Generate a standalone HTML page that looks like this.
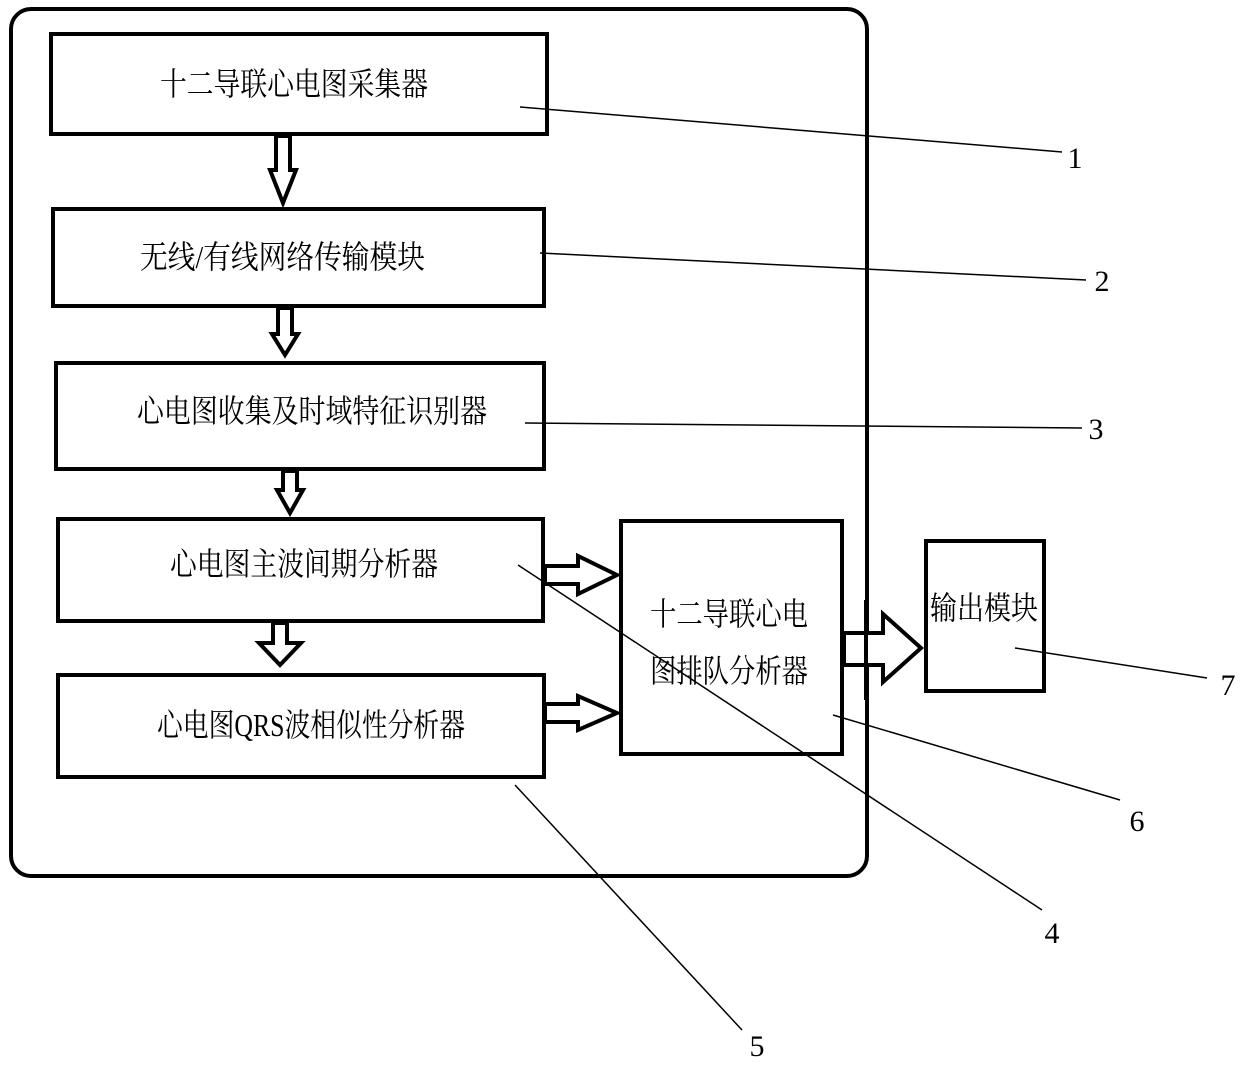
<!DOCTYPE html>
<html><head><meta charset="utf-8"><style>
html,body{margin:0;padding:0;background:#fff}
text{font-family:"Liberation Serif","Noto Serif CJK SC","Noto Sans CJK SC",serif;fill:#000}
</style></head><body>
<svg width="1240" height="1065" viewBox="0 0 1240 1065" xmlns="http://www.w3.org/2000/svg">
<rect x="11" y="9" width="856" height="867" rx="20" fill="none" stroke="#000" stroke-width="4"/>
<g fill="#fff" stroke="#000" stroke-width="4">
<rect x="51" y="34" width="496" height="100"/>
<rect x="53" y="209" width="491" height="97"/>
<rect x="56" y="363" width="488" height="106"/>
<rect x="58" y="519" width="485" height="102"/>
<rect x="58" y="675" width="486" height="102"/>
<rect x="621" y="521" width="221" height="233"/>
<rect x="926" y="541" width="118" height="150"/>
</g>
<g fill="#fff" stroke="#000" stroke-width="4" stroke-linejoin="miter">
<path d="M276 136 V170 H270 L283 203 L296 170 H290 V136 Z"/>
<path d="M278 308 V334 H272 L285 355 L298 334 H292 V308 Z"/>
<path d="M283 471 V490 H277 L290 513 L303 490 H297 V471 Z"/>
<path d="M273 623 V643 H259 L280 665 L301 643 H287 V623 Z"/>
<path d="M545 566 H578 V556 L617 575 L578 594 V584 H545 Z"/>
<path d="M545 704 H578 V696 L617 713 L578 730 V722 H545 Z"/>
<path d="M844 633 H883 V614 L921 648 L883 682 V665 H844 Z"/>
</g>
<line x1="866" y1="600" x2="866" y2="700" stroke="#000" stroke-width="4"/>
<g stroke="#000" stroke-width="1.5" fill="none">
<line x1="520" y1="107" x2="1062" y2="152"/>
<line x1="540" y1="253" x2="1086" y2="280"/>
<line x1="525" y1="423" x2="1082" y2="428"/>
<line x1="518" y1="565" x2="1042" y2="910"/>
<line x1="515" y1="785" x2="742" y2="1030"/>
<line x1="833" y1="715" x2="1120" y2="800"/>
<line x1="1015" y1="648" x2="1207" y2="678"/>
</g>
<g font-size="32" lengthAdjust="spacingAndGlyphs">
<text x="160" y="95" textLength="268" lengthAdjust="spacingAndGlyphs">十二导联心电图采集器</text>
<text x="140" y="268" textLength="285" lengthAdjust="spacingAndGlyphs">无线/有线网络传输模块</text>
<text x="137" y="422" textLength="350" lengthAdjust="spacingAndGlyphs">心电图收集及时域特征识别器</text>
<text x="170" y="575" textLength="268" lengthAdjust="spacingAndGlyphs">心电图主波间期分析器</text>
<text x="157" y="736" textLength="308" lengthAdjust="spacingAndGlyphs">心电图QRS波相似性分析器</text>
<text x="650" y="625" textLength="158" lengthAdjust="spacingAndGlyphs">十二导联心电</text>
<text x="650" y="682" textLength="158" lengthAdjust="spacingAndGlyphs">图排队分析器</text>
<text x="930" y="619" textLength="108" lengthAdjust="spacingAndGlyphs">输出模块</text>
</g>
<g font-size="30" text-anchor="middle">
<text x="1075" y="168">1</text>
<text x="1102" y="291">2</text>
<text x="1096" y="439">3</text>
<text x="1052" y="943">4</text>
<text x="757" y="1056">5</text>
<text x="1137" y="831">6</text>
<text x="1228" y="695">7</text>
</g>
</svg>
</body></html>
